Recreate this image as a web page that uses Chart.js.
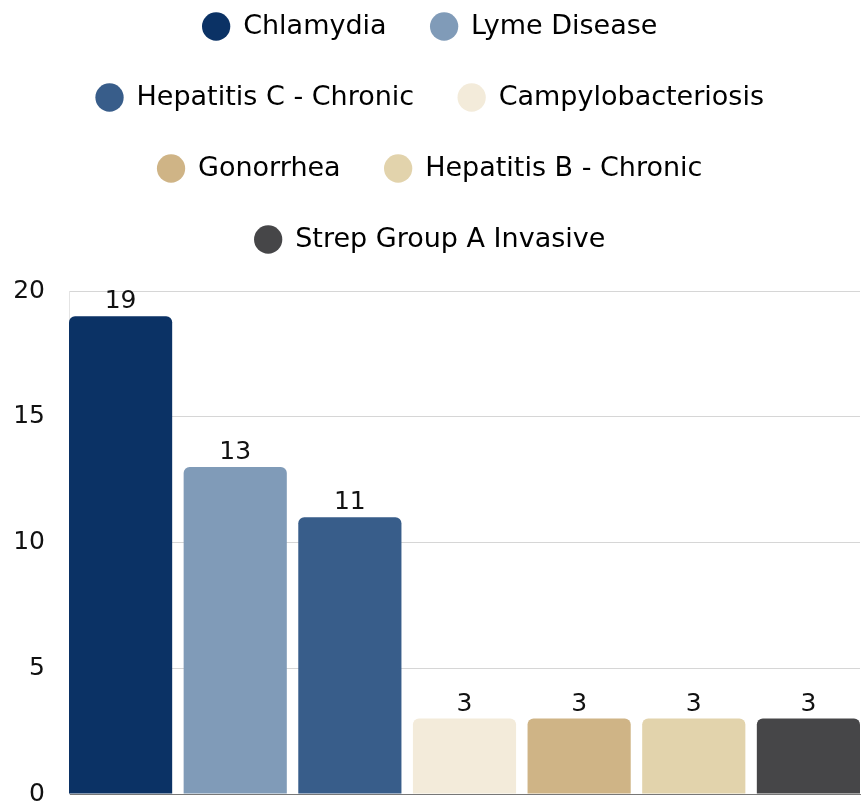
<!DOCTYPE html>
<html>
<head>
<meta charset="utf-8">
<script src="https://cdn.jsdelivr.net/npm/chart.js@4.4.1/dist/chart.umd.min.js"></script>
<style>
  html, body { margin: 0; padding: 0; background: #fff; overflow: hidden; width: 868px; height: 802px; }
  #wrap { position: absolute; left: 0; top: -31px; width: 868px; height: 864px; }
</style>
</head>
<body>
<div id="wrap"><canvas id="c"></canvas></div>
<script>
const categories = ['Chlamydia', 'Lyme Disease', 'Hepatitis C - Chronic', 'Campylobacteriosis', 'Gonorrhea', 'Hepatitis B - Chronic', 'Strep Group A Invasive'];
const cases = [19, 13, 11, 3, 3, 3, 3];
const barColors = ['#0b3265', '#809bb8', '#385d8a', '#f3ebda', '#cfb486', '#e2d3ac', '#464648'];
const yTicks = [0, 5, 10, 15, 20];

const FONT = '"DejaVu Sans", "Noto Sans", sans-serif';

const valueLabels = {
  id: 'valueLabels',
  afterDatasetsDraw(chart) {
    const ctx = chart.ctx;
    const meta = chart.getDatasetMeta(0);
    ctx.save();
    ctx.font = '25px ' + FONT;
    ctx.fillStyle = '#111';
    ctx.textAlign = 'center';
    ctx.textBaseline = 'alphabetic';
    meta.data.forEach((bar, i) => {
      ctx.fillText(String(cases[i]), bar.x, bar.y - 8);
    });
    ctx.restore();
  }
};

const legendGap = {
  id: 'legendGap',
  beforeInit(chart) {
    const origFit = chart.legend.fit;
    chart.legend.fit = function () {
      origFit.bind(chart.legend)();
      this.height += 28;
    };
  }
};

new Chart(document.getElementById('c'), {
  type: 'bar',
  data: {
    datasets: [{
      label: 'Cases',
      data: cases.map((v, i) => ({ x: i, y: v })),
      backgroundColor: barColors,
      borderRadius: 6,
      borderSkipped: 'start',
      barPercentage: 0.9,
      categoryPercentage: 1
    }]
  },
  options: {
    responsive: true,
    maintainAspectRatio: false,
    animation: false,
    layout: { padding: { left: 0, right: 8, top: 0, bottom: 0 } },
    plugins: {
      tooltip: { enabled: false },
      legend: {
        position: 'top',
        labels: {
          usePointStyle: true,
          pointStyle: 'circle',
          boxHeight: 20,
          padding: 44,
          color: '#111',
          font: { family: FONT, size: 27 },
          generateLabels() {
            return categories.map((name, i) => ({
              text: name,
              fillStyle: barColors[i],
              strokeStyle: barColors[i],
              lineWidth: 0,
              pointStyle: 'circle',
              hidden: false,
              index: i
            }));
          }
        }
      }
    },
    scales: {
      x: {
        type: 'linear',
        offset: false,
        min: -0.45,
        max: cases.length - 0.55,
        afterBuildTicks(scale) { scale.ticks = categories.map((c, i) => ({ value: i })); },
        ticks: { display: false },
        grid: { display: false, drawTicks: false },
        border: { display: true, color: '#777' }
      },
      y: {
        min: 0,
        max: 20,
        afterBuildTicks(scale) { scale.ticks = yTicks.map(v => ({ value: v })); },
        afterFit(scale) { scale.width = 69; },
        ticks: { padding: 24, color: '#111', font: { family: FONT, size: 25 } },
        grid: { color: '#d6d6d6', drawTicks: false },
        border: { display: true, color: '#e4e4e4' }
      }
    }
  },
  plugins: [valueLabels, legendGap]
});
</script>
</body>
</html>
